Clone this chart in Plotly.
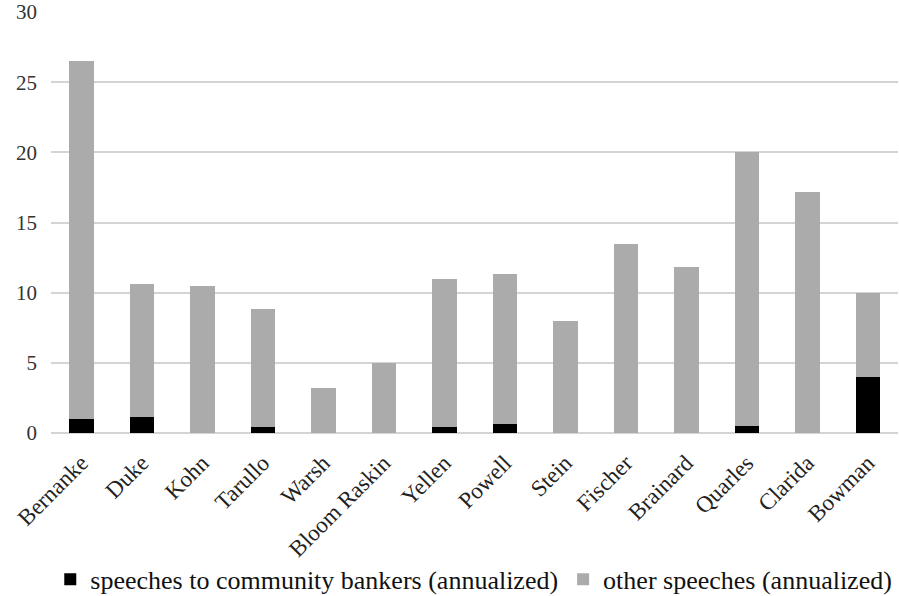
import plotly.graph_objects as go

governors = ["Bernanke", "Duke", "Kohn", "Tarullo", "Warsh", "Bloom Raskin", "Yellen",
             "Powell", "Stein", "Fischer", "Brainard", "Quarles", "Clarida", "Bowman"]
community_bankers = [1.0, 1.15, 0.0, 0.43, 0.0, 0.0, 0.43, 0.66, 0.0, 0.0, 0.0, 0.52, 0.0, 4.0]
other_speeches = [25.5, 9.45, 10.5, 8.4, 3.2, 5.0, 10.57, 10.66, 8.0, 13.46, 11.8, 19.48, 17.14, 6.0]
y_ticks = [0, 5, 10, 15, 20, 25, 30]

font_family = "'Times New Roman', 'Liberation Serif', 'DejaVu Serif', serif"

fig = go.Figure()
fig.add_trace(go.Bar(
    x=governors, y=community_bankers,
    name="speeches to community bankers (annualized)",
    marker=dict(color="#000000", line=dict(width=0)),
))
fig.add_trace(go.Bar(
    x=governors, y=other_speeches,
    name="other speeches (annualized)",
    marker=dict(color="#ababab", line=dict(width=0)),
))

fig.update_layout(
    barmode="stack",
    bargap=0.595,
    width=899, height=596,
    margin=dict(l=51, r=1, t=12, b=163),
    paper_bgcolor="white",
    plot_bgcolor="white",
    font=dict(family=font_family, color="#333333", size=21),
    showlegend=True,
    legend=dict(
        orientation="h",
        xref="container", yref="container",
        x=0.527, xanchor="center",
        y=0.028, yanchor="middle",
        traceorder="normal",
        bgcolor="rgba(0,0,0,0)",
        font=dict(family=font_family, size=26, color="#111111"),
        itemwidth=30,
    ),
    xaxis=dict(
        tickangle=-45,
        tickfont=dict(family=font_family, size=23, color="#222222"),
        showgrid=False,
        showline=False,
        ticks="",
        ticklabelstandoff=11,
        automargin=False,
    ),
    yaxis=dict(
        range=[0, 30],
        tickvals=y_ticks,
        tickfont=dict(family=font_family, size=21, color="#333333"),
        showgrid=True,
        gridcolor="#d4d4d4",
        gridwidth=1.5,
        zeroline=True,
        zerolinecolor="#d4d4d4",
        zerolinewidth=1.5,
        showline=False,
        ticks="",
        ticklabelstandoff=13,
        automargin=False,
    ),
)

fig.write_html("out.html")
